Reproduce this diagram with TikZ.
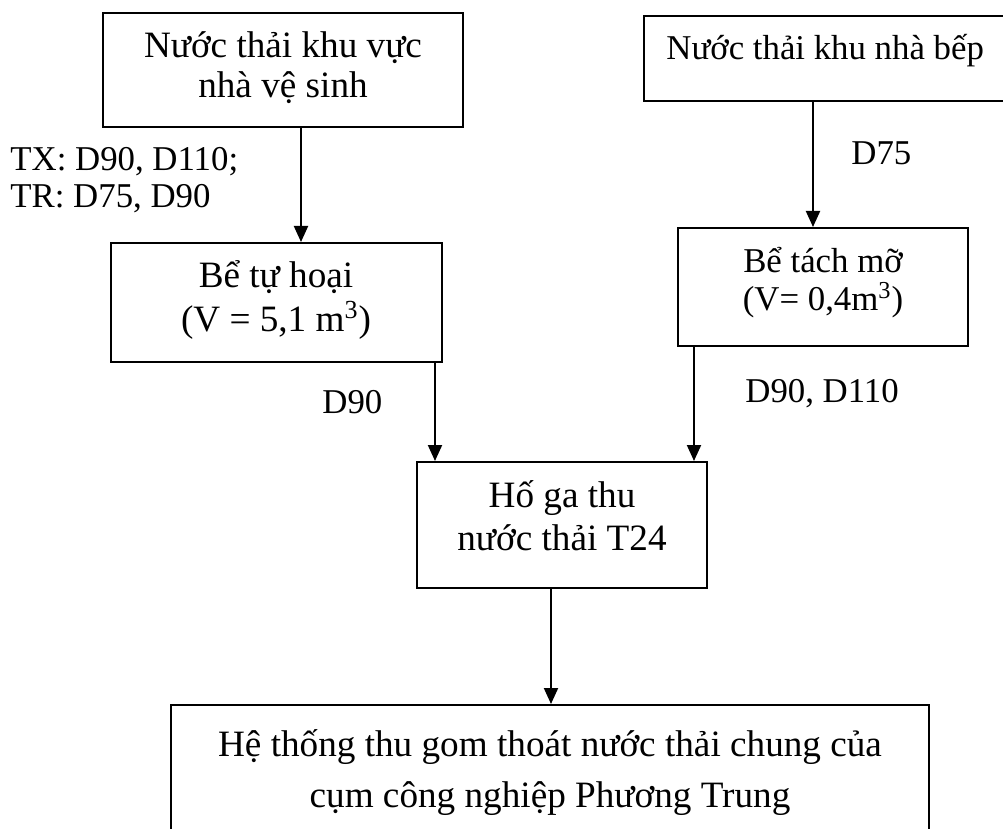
\documentclass[tikz,border=0pt]{standalone}
\usepackage{fontspec}
\setmainfont{Liberation Serif}
\usetikzlibrary{arrows.meta}
\tikzset{
  box/.style={draw, line width=1pt, rectangle, inner sep=0pt},
  txt/.style={inner sep=0pt, anchor=base, font=\fontsize{18.6pt}{21pt}\selectfont},
  stxt/.style={txt, font=\fontsize{17.4pt}{20pt}\selectfont},
  ltxt/.style={stxt, anchor=base west},
  arr/.style={line width=1pt, -{Triangle[width=7pt,length=8pt]}}
}
\begin{document}
\begin{tikzpicture}[x=0.5pt,y=-0.5pt]
\useasboundingbox (0,0) rectangle (1003,829);
\clip (0,0) rectangle (1003,829);
% boxes
\node[box, minimum width=180pt, minimum height=57pt] (A) at (283,70) {};
\node[box, minimum width=165.5pt, minimum height=59.5pt] (B) at (276.5,302.5) {};
\node[box, minimum width=183pt, minimum height=42.5pt] (C) at (827,58.5) {};
\node[box, minimum width=145pt, minimum height=59pt] (D) at (823,287) {};
\node[box, minimum width=145pt, minimum height=63pt] (E) at (562,525) {};
\node[box, minimum width=379pt, minimum height=72.5pt] (F) at (550,777.5) {};
% box texts
\node[txt] (a1) at (283,58) {Nước thải khu vực};
\node[txt] (a2) at (283,98) {nhà vệ sinh};
\node[txt] (b1) at (276,288) {Bể tự hoại};
\node[txt] (b2) at (276,331) {(V = 5,1 m\textsuperscript{3})};
\node[stxt, anchor=base west] (c1) at (666,60) {Nước thải khu nhà bếp};
\node[stxt] (d1) at (823,272) {Bể tách mỡ};
\node[stxt] (d2) at (823,311) {(V= 0,4m\textsuperscript{3})};
\node[txt] (e1) at (562,507) {Hố ga thu};
\node[txt] (e2) at (562,550) {nước thải T24};
\node[txt] (f1) at (550,756) {Hệ thống thu gom thoát nước thải chung của};
\node[txt] (f2) at (550,807) {cụm công nghiệp Phương Trung};
% connector labels
\node[ltxt] (l1) at (10,171) {TX: D90, D110;};
\node[ltxt] (l2) at (10,208) {TR: D75, D90};
\node[ltxt] (l3) at (851,165) {D75};
\node[ltxt] (l4) at (322,413) {D90};
\node[ltxt] (l5) at (745,402) {D90, D110};
% connectors
\draw[arr] ([xshift=9pt]A.south) -- ([xshift=9pt]A.south |- B.north);
\draw[arr] ([xshift=-7pt]C.south) -- ([xshift=-7pt]C.south |- D.north);
\draw[arr] ([xshift=9.5pt]E.north west |- B.south) -- ([xshift=9.5pt]E.north west);
\draw[arr] ([xshift=-7pt]E.north east |- D.south) -- ([xshift=-7pt]E.north east);
\draw[arr] ([xshift=-5.5pt]E.south) -- ([xshift=-5.5pt]E.south |- F.north);
\end{tikzpicture}
\end{document}
